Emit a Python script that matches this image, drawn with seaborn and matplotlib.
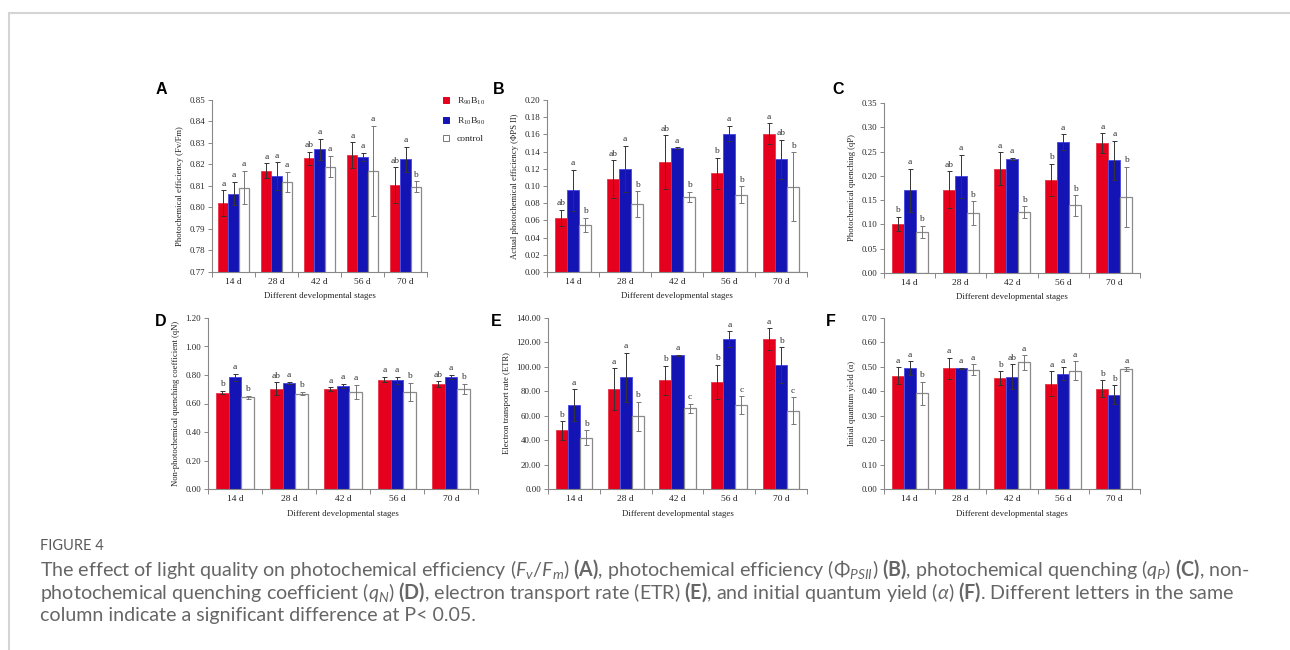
import numpy as np
import pandas as pd
import matplotlib
matplotlib.use("Agg")
import matplotlib.pyplot as plt
import seaborn as sns
from matplotlib.lines import Line2D
from matplotlib.ticker import FormatStrFormatter, MultipleLocator, FixedLocator

# ---------------- data ----------------
stages = ["14 d", "28 d", "42 d", "56 d", "70 d"]
treatments = ["R90B10", "R10B90", "control"]
legend_labels = [r"R$_{\mathdefault{90}}$B$_{\mathdefault{10}}$",
                 r"R$_{\mathdefault{10}}$B$_{\mathdefault{90}}$", "control"]

# A: Fv/Fm
A_red = [0.8020, 0.8170, 0.8228, 0.8243, 0.8105]
A_blue = [0.8065, 0.8145, 0.8270, 0.8235, 0.8225]
A_ctrl = [0.8093, 0.8120, 0.8190, 0.8170, 0.8097]
A_red_err = [0.0060, 0.0035, 0.0030, 0.0060, 0.0082]
A_blue_err = [0.0055, 0.0065, 0.0050, 0.0020, 0.0058]
A_ctrl_err = [0.0078, 0.0047, 0.0050, 0.0210, 0.0025]
A_letters = [["a", "a", "ab", "a", "ab"], ["a", "a", "a", "a", "a"], ["a", "a", "a", "a", "b"]]

# B: PhiPSII
B_red = [0.063, 0.108, 0.128, 0.115, 0.161]
B_blue = [0.095, 0.120, 0.144, 0.161, 0.131]
B_ctrl = [0.055, 0.079, 0.087, 0.090, 0.099]
B_red_err = [0.009, 0.022, 0.031, 0.018, 0.012]
B_blue_err = [0.024, 0.027, 0.001, 0.009, 0.023]
B_ctrl_err = [0.008, 0.015, 0.006, 0.0095, 0.040]
B_letters = [["ab", "ab", "ab", "b", "a"], ["a", "a", "a", "a", "ab"], ["b", "b", "b", "b", "b"]]

# C: qP
C_red = [0.101, 0.171, 0.215, 0.192, 0.268]
C_blue = [0.170, 0.199, 0.235, 0.270, 0.232]
C_ctrl = [0.085, 0.123, 0.125, 0.139, 0.157]
C_red_err = [0.015, 0.038, 0.034, 0.033, 0.020]
C_blue_err = [0.045, 0.044, 0.002, 0.016, 0.040]
C_ctrl_err = [0.012, 0.025, 0.012, 0.021, 0.062]
C_letters = [["b", "ab", "a", "b", "a"], ["a", "a", "a", "a", "a"], ["b", "b", "b", "b", "b"]]

# D: qN
D_red = [0.677, 0.703, 0.700, 0.768, 0.737]
D_blue = [0.785, 0.745, 0.723, 0.762, 0.788]
D_ctrl = [0.643, 0.670, 0.683, 0.683, 0.705]
D_red_err = [0.012, 0.045, 0.015, 0.020, 0.018]
D_blue_err = [0.025, 0.008, 0.016, 0.027, 0.015]
D_ctrl_err = [0.013, 0.013, 0.050, 0.063, 0.035]
D_letters = [["b", "ab", "a", "a", "ab"], ["a", "a", "a", "a", "a"], ["b", "b", "a", "b", "b"]]

# E: ETR
E_red = [48.0, 82.0, 89.0, 87.5, 122.5]
E_blue = [68.5, 91.5, 109.5, 122.5, 101.5]
E_ctrl = [42.0, 59.5, 66.0, 68.5, 64.0]
E_red_err = [7.5, 17.0, 12.0, 14.0, 9.0]
E_blue_err = [13.0, 20.0, 0.5, 6.5, 14.5]
E_ctrl_err = [6.0, 12.0, 4.0, 7.5, 11.0]
E_letters = [["b", "a", "b", "b", "a"], ["a", "a", "a", "a", "b"], ["b", "b", "c", "c", "c"]]

# F: alpha
F_red = [0.463, 0.495, 0.453, 0.431, 0.410]
F_blue = [0.495, 0.494, 0.459, 0.472, 0.386]
F_ctrl = [0.391, 0.489, 0.518, 0.485, 0.490]
F_red_err = [0.035, 0.043, 0.029, 0.051, 0.035]
F_blue_err = [0.027, 0.002, 0.051, 0.026, 0.038]
F_ctrl_err = [0.049, 0.021, 0.029, 0.038, 0.008]
F_letters = [["a", "a", "b", "a", "b"], ["a", "a", "ab", "a", "b"], ["b", "a", "a", "a", "a"]]

panels = [
    ("A", "Photochemical efficiency (Fv/Fm)", (A_red, A_blue, A_ctrl), (A_red_err, A_blue_err, A_ctrl_err), A_letters, (0.77, 0.85), 0.01),
    ("B", "Actual photochemical efficiency (ΦPS II)", (B_red, B_blue, B_ctrl), (B_red_err, B_blue_err, B_ctrl_err), B_letters, (0.0, 0.20), 0.02),
    ("C", "Photochemical quenching (qP)", (C_red, C_blue, C_ctrl), (C_red_err, C_blue_err, C_ctrl_err), C_letters, (0.0, 0.35), 0.05),
    ("D", "Non-photochemical quenching coefficient (qN)", (D_red, D_blue, D_ctrl), (D_red_err, D_blue_err, D_ctrl_err), D_letters, (0.0, 1.20), 0.20),
    ("E", "Electron transport rate (ETR)", (E_red, E_blue, E_ctrl), (E_red_err, E_blue_err, E_ctrl_err), E_letters, (0.0, 140.0), 20.0),
    ("F", "Initial quantum yield (α)", (F_red, F_blue, F_ctrl), (F_red_err, F_blue_err, F_ctrl_err), F_letters, (0.0, 0.70), 0.10),
]

# ---------------- style ----------------
sns.set_theme(style="white")
plt.rcParams["font.family"] = ["Liberation Serif", "DejaVu Serif"]
plt.rcParams["mathtext.fontset"] = "custom"
plt.rcParams["mathtext.rm"] = "Lato"
plt.rcParams["mathtext.it"] = "Lato:italic"
plt.rcParams["mathtext.bf"] = "Lato:bold"

fill_colors = ["#E5001E", "#1414B4", "#FFFFFF"]
edge_colors = ["#E84050", "#5050E0", "#8A8A8A"]
err_colors = ["#333333", "#333333", "#777777"]
palette = dict(zip(treatments, fill_colors))

W, H = 1290, 650
fig = plt.figure(figsize=(W / 100, H / 100), dpi=100)
fig.patch.set_facecolor("white")

# axes boxes in pixel coords: left, top, right, bottom
boxes = [
    (212, 100, 427, 272),
    (547, 100, 807, 272),
    (884, 103, 1140, 273),
    (208, 318, 478, 489),
    (548, 318, 807, 489),
    (884, 318, 1140, 489),
]
letter_pos = [(161, 90), (499, 89), (838, 90), (161, 321), (496, 321), (831, 321)]

for (lab, ylab, means, errs, letters, ylim, step), (l, t, r, b), (lx, ly) in zip(panels, boxes, letter_pos):
    ax = fig.add_axes([l / W, 1 - b / H, (r - l) / W, (b - t) / H])
    df = pd.DataFrame({
        "stage": np.tile(stages, 3),
        "treatment": np.repeat(treatments, len(stages)),
        "value": np.concatenate([np.asarray(m, dtype=float) for m in means]),
    })
    sns.barplot(data=df, x="stage", y="value", hue="treatment", order=stages,
                hue_order=treatments, palette=palette, errorbar=None, width=0.7,
                saturation=1, legend=False, ax=ax)
    span = ylim[1] - ylim[0]
    bar_conts = list(ax.containers)
    for i, cont in enumerate(bar_conts):
        xs, hs = [], []
        for bar in cont:
            bar.set_edgecolor(edge_colors[i])
            bar.set_linewidth(0.7 if i < 2 else 0.9)
            xs.append(bar.get_x() + bar.get_width() / 2)
            hs.append(bar.get_height())
        ax.errorbar(xs, hs, yerr=errs[i], fmt="none", ecolor=err_colors[i],
                    elinewidth=0.7, capsize=1.8, capthick=0.7, zorder=5)
        for x, h, e, txt in zip(xs, hs, errs[i], letters[i]):
            ax.text(x, h + e + span * 0.015, txt, ha="center", va="bottom",
                    fontsize=6.8, color="#333333")
    ax.set_ylim(*ylim)
    ax.set_xlim(-0.5, 4.5)
    ax.yaxis.set_major_locator(MultipleLocator(step))
    ax.yaxis.set_major_formatter(FormatStrFormatter("%.2f"))
    ax.xaxis.set_minor_locator(FixedLocator(np.arange(-0.5, 5.0, 1.0)))
    ax.tick_params(axis="x", which="major", length=0, labelsize=6.8, pad=4, colors="#222222")
    ax.tick_params(axis="x", which="minor", length=3.5, width=0.7, color="#888888", direction="out")
    ax.tick_params(axis="y", which="major", length=3, width=0.7, color="#888888", direction="out",
                   labelsize=6.3, pad=2, labelcolor="#222222")
    ax.tick_params(bottom=True, left=True, which="both")
    for s in ["top", "right"]:
        ax.spines[s].set_visible(False)
    for s in ["left", "bottom"]:
        ax.spines[s].set_color("#888888")
        ax.spines[s].set_linewidth(0.8)
    ax.set_ylabel(ylab, fontsize=6.2, color="#222222", labelpad=4)
    ax.set_xlabel("Different developmental stages", fontsize=6.4, color="#222222", labelpad=5)
    ax.set_facecolor("white")
    fig.text(lx / W, 1 - ly / H, lab, fontsize=11.5, fontweight="bold",
             family="Liberation Sans", ha="center", va="center", color="black")

# legend
handles = [Line2D([], [], marker="s", ls="", markersize=4.2, markerfacecolor=fc,
                  markeredgecolor=("#777777" if fc == "#FFFFFF" else fc), markeredgewidth=0.7)
           for fc in fill_colors]
fig.legend(handles, legend_labels, loc="upper left", bbox_to_anchor=(437 / W, 1 - 92 / H),
           frameon=False, fontsize=6.8, handlelength=1.0, handletextpad=0.7,
           labelspacing=0.85, borderaxespad=0)

# frame lines
fig.add_artist(Line2D([9 / W, 1.0], [1 - 13 / H, 1 - 13 / H], color="#d4d4d4", lw=1.5))
fig.add_artist(Line2D([9 / W, 9 / W], [1 - 13 / H, 0.0], color="#d4d4d4", lw=1.5))

# caption
cap_color = "#666666"
fig.text(40 / W, 1 - 546 / H, "FIGURE 4", fontsize=10.5, family="Lato", color="#5a5a5a",
         va="center", ha="left")
lines = [
    r"The effect of light quality on photochemical efficiency ($\mathit{F_v/F_m}$) $\mathbf{(A)}$, photochemical efficiency ($\mathit{\Phi_{PSII}}$) $\mathbf{(B)}$, photochemical quenching ($\mathit{q_P}$) $\mathbf{(C)}$, non-",
    r"photochemical quenching coefficient ($\mathit{q_N}$) $\mathbf{(D)}$, electron transport rate (ETR) $\mathbf{(E)}$, and initial quantum yield ($\mathit{\alpha}$) $\mathbf{(F)}$. Different letters in the same",
    "column indicate a significant difference at P< 0.05.",
]
for yy, txt in zip([569, 592, 615], lines):
    fig.text(40 / W, 1 - yy / H, txt, fontsize=14.1, family="Lato", color=cap_color,
             va="center", ha="left")

fig.savefig("out.png", dpi=100, facecolor="white")
